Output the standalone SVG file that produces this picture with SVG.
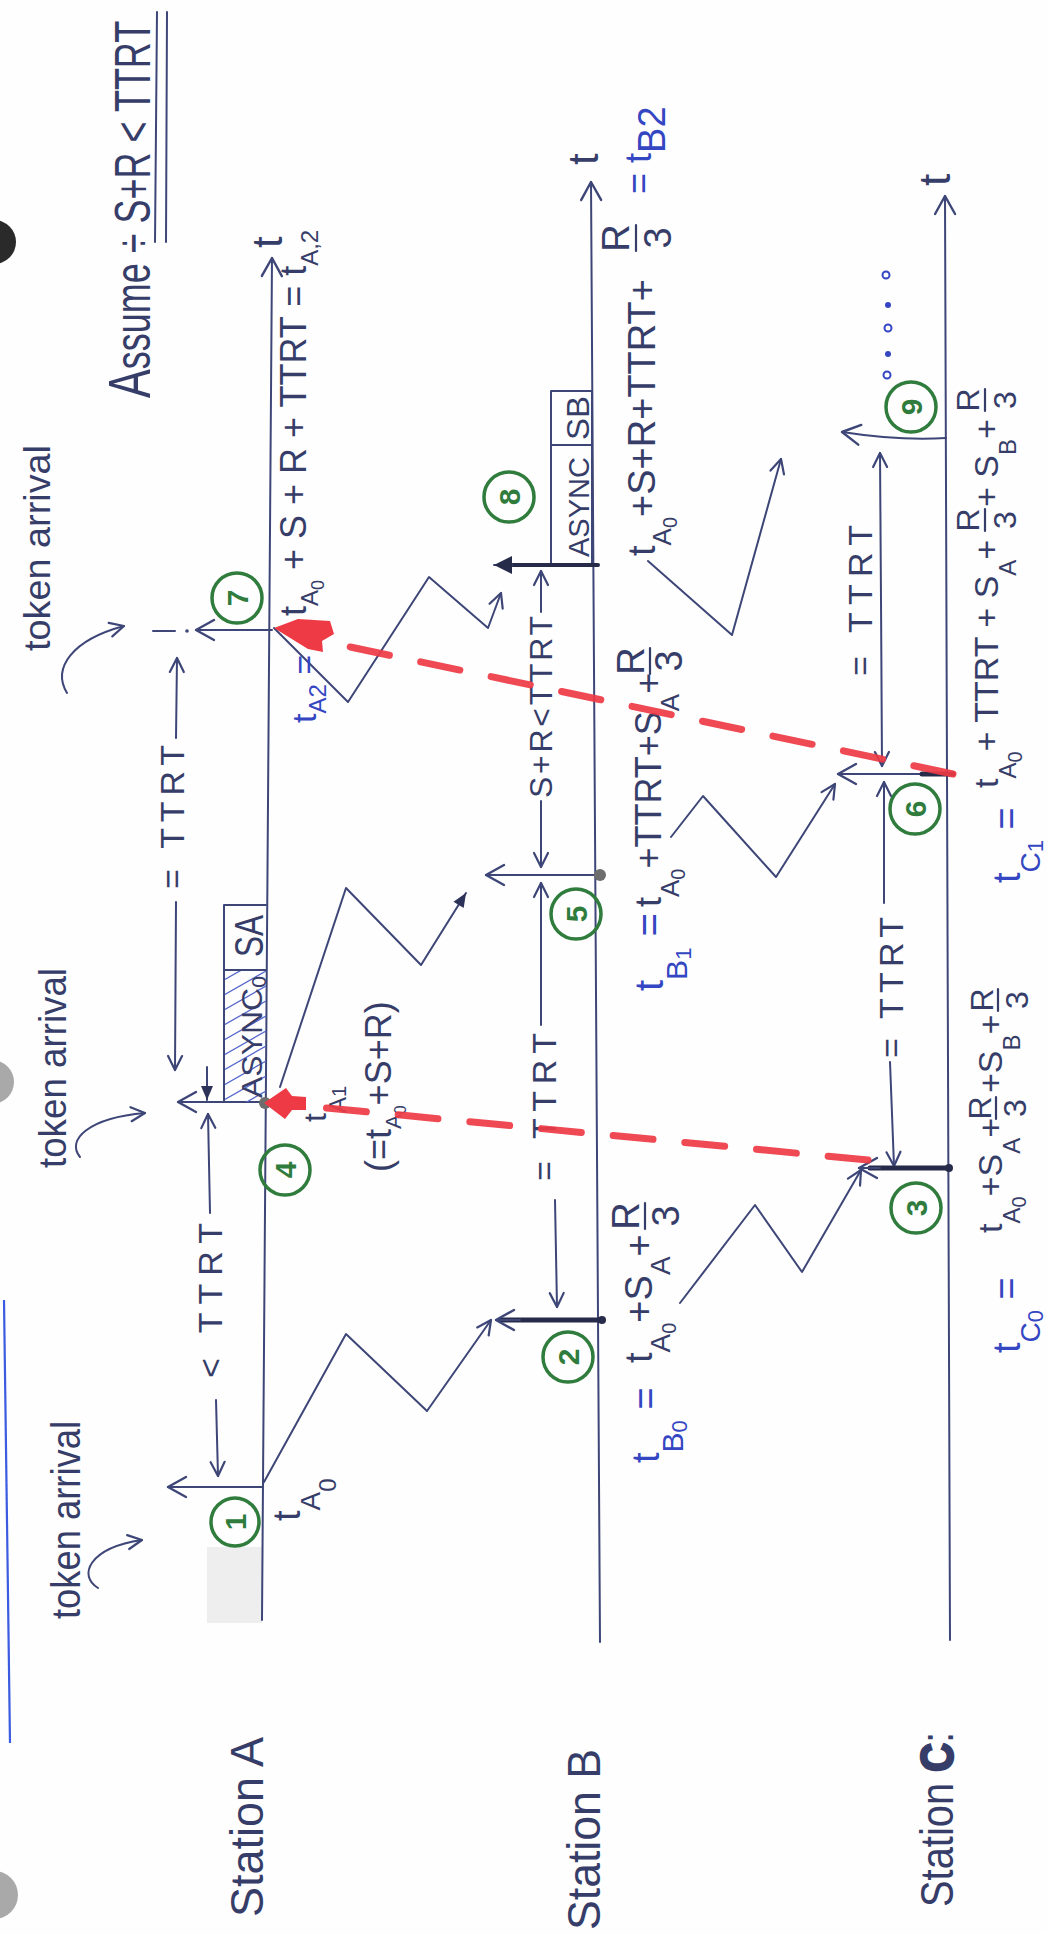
<svg xmlns="http://www.w3.org/2000/svg" width="1047" height="1934" viewBox="0 0 1047 1934">
<defs>
<style>
.ln{stroke:#3d4677;stroke-width:2;fill:none;stroke-linecap:round;stroke-linejoin:round}
.tk{stroke:#262b4a;stroke-width:5;fill:none;stroke-linecap:round}
.tx{font-family:"Liberation Sans","DejaVu Sans",Arial,sans-serif;fill:#363d68}
.bl{fill:#3446c2}
.gc{fill:none;stroke:#2f7c3d;stroke-width:3.5}
.gn{font-family:"Liberation Sans",Arial,sans-serif;font-weight:bold;fill:#2f7c3d;font-size:30px;text-anchor:middle}
.rd{fill:none;stroke:#ee3a44;stroke-width:7;stroke-linecap:round;stroke-dasharray:40 32;opacity:.92}
.rf{fill:#ee3a44}
.ht{stroke:#5566cc;stroke-width:1.3;fill:none}
.fb{stroke:#363d68;stroke-width:2.2;fill:none;stroke-linecap:round}
</style>
<marker id="ah" viewBox="0 0 24 24" refX="21" refY="12" markerWidth="24" markerHeight="24" markerUnits="userSpaceOnUse" orient="auto"><path d="M3,2 L21,12 L3,22" fill="none" stroke="#3d4677" stroke-width="2.4" stroke-linecap="round" stroke-linejoin="round"/></marker>
<marker id="as" viewBox="0 0 18 18" refX="16" refY="9" markerWidth="18" markerHeight="18" markerUnits="userSpaceOnUse" orient="auto"><path d="M2,2 L16,9 L2,16" fill="none" stroke="#3d4677" stroke-width="2.2" stroke-linecap="round" stroke-linejoin="round"/></marker>
<marker id="af" viewBox="0 0 20 20" refX="19" refY="10" markerWidth="20" markerHeight="20" markerUnits="userSpaceOnUse" orient="auto"><path d="M1,1 L19,10 L1,19 Z" fill="#262b4a"/></marker>
<marker id="afs" viewBox="0 0 16 16" refX="15" refY="8" markerWidth="16" markerHeight="16" markerUnits="userSpaceOnUse" orient="auto"><path d="M1,2 L15,8 L1,14 Z" fill="#2c3258"/></marker>
<clipPath id="hc"><rect x="224" y="970" width="42" height="132"/></clipPath>
</defs>
<rect width="1047" height="1934" fill="#fefefe"/>

<g id="paper">
<circle cx="-6" cy="242" r="22" fill="#2a2a2a"/>
<circle cx="-8" cy="1082" r="22" fill="#a9a9a9"/>
<circle cx="-6" cy="1895" r="24" fill="#a9a9a9"/>
<line x1="4" y1="1300" x2="10" y2="1743" stroke="#3b5be0" stroke-width="2.2"/>
<rect x="207" y="1547" width="55" height="76" fill="#d2d2d2" opacity="0.35"/>
</g>

<g id="assume">
<text class="tx" font-size="50" transform="translate(150,398) rotate(-90) scale(0.72,1)"><tspan font-size="60">A</tspan>ssume ÷ S+R &lt; TTRT</text>
<line class="ln" x1="155" y1="242" x2="157" y2="12"/>
<line class="ln" x1="166" y1="242" x2="167" y2="12"/>
</g>

<g id="timelines">
<path class="ln" d="M262,1620 L272,258" marker-end="url(#ah)"/>
<path class="ln" d="M600,1642 L591,182" marker-end="url(#ah)"/>
<path class="ln" d="M950,1640 L945,196" marker-end="url(#ah)"/>
<text class="tx" font-size="42" transform="translate(282,248) rotate(-90)">t</text>
<text class="tx" font-size="42" transform="translate(598,165) rotate(-90)">t</text>
<text class="tx" font-size="44" transform="translate(950,186) rotate(-90)">t</text>
</g>

<g id="station-a"><text class="tx" font-size="46" transform="translate(263,1917) rotate(-90)" textLength="180" lengthAdjust="spacingAndGlyphs">Station A</text></g>
<g id="station-b"><text class="tx" font-size="46" transform="translate(600,1930) rotate(-90)" textLength="181" lengthAdjust="spacingAndGlyphs">Station B</text></g>
<g id="station-c"><text class="tx" font-size="46" transform="translate(953,1907) rotate(-90)" textLength="175" lengthAdjust="spacingAndGlyphs">Station <tspan font-weight="bold" stroke="#363d68" stroke-width="2.5">C</tspan>:</text></g>

<g id="token-arrival-1">
<text class="tx" font-size="40" transform="translate(80,1619) rotate(-90)" textLength="198" lengthAdjust="spacingAndGlyphs">token arrival</text>
<path class="ln" d="M98,1588 C78,1576 88,1548 142,1540" marker-end="url(#as)"/>
</g>
<g id="token-arrival-2">
<text class="tx" font-size="38" transform="translate(66,1168) rotate(-90)" textLength="200" lengthAdjust="spacingAndGlyphs">token arrival</text>
<path class="ln" d="M80,1157 C66,1140 88,1118 145,1113" marker-end="url(#as)"/>
</g>
<g id="token-arrival-3">
<text class="tx" font-size="36" transform="translate(50,651) rotate(-90)" textLength="206" lengthAdjust="spacingAndGlyphs">token arrival</text>
<path class="ln" d="M67,693 C52,668 72,640 124,626" marker-end="url(#as)"/>
</g>

<g id="connectors">
<path class="ln" d="M264,1482 L346,1334 L427,1411 L491,1320" marker-end="url(#as)"/>
<path class="ln" d="M680,1303 L755,1205 L802,1272 L861,1170" marker-end="url(#as)"/>
<path class="ln" d="M280,1087 L346,888 L421,965 L466,893" marker-end="url(#afs)"/>
<path class="ln" d="M671,837 L703,796 L776,877 L835,784" marker-end="url(#as)"/>
<path class="ln" d="M274,628 L348,702 L429,577 L488,628 L501,593" marker-end="url(#as)"/>
<path class="ln" d="M648,561 L732,635 L781,459" marker-end="url(#as)"/>

<path class="ln" d="M210,1213 L208,1114" marker-end="url(#as)"/>
<path class="ln" d="M216,1400 L218,1476" marker-end="url(#as)"/>
<text class="tx" font-size="34" transform="translate(222,1378) rotate(-90)" textLength="155" lengthAdjust="spacing">&lt; TTRT</text>

<path class="ln" d="M176,738 L177,658" marker-end="url(#as)"/>
<path class="ln" d="M176,902 L175,1070" marker-end="url(#as)"/>
<path class="ln" d="M207,1067 L207,1100" marker-end="url(#afs)"/>
<text class="tx" font-size="34" transform="translate(184,889) rotate(-90)" textLength="144" lengthAdjust="spacing">= TTRT</text>

<path class="ln" d="M541,1025 L541,883" marker-end="url(#as)"/>
<path class="ln" d="M555,1200 L557,1307" marker-end="url(#as)"/>
<text class="tx" font-size="34" transform="translate(556,1181) rotate(-90)" textLength="148" lengthAdjust="spacing">= TTRT</text>

<path class="ln" d="M541,612 L541,571" marker-end="url(#as)"/>
<path class="ln" d="M541,801 L541,867" marker-end="url(#as)"/>
<text class="tx" font-size="32" transform="translate(552,798) rotate(-90)" textLength="182" lengthAdjust="spacing">S+R&lt;TTRT</text>

<path class="ln" d="M881,600 L880,453" marker-end="url(#as)"/>
<path class="ln" d="M881,600 L882,766" marker-end="url(#as)"/>
<text class="tx" font-size="34" transform="translate(872,676) rotate(-90)" textLength="151" lengthAdjust="spacing">= TTRT</text>

<path class="ln" d="M884,903 L884,782" marker-end="url(#as)"/>
<path class="ln" d="M890,1062 L894,1166" marker-end="url(#as)"/>
<text class="tx" font-size="34" transform="translate(903,1058) rotate(-90)" textLength="141" lengthAdjust="spacing">= TTRT</text>
</g>

<g id="ev1">
<path class="ln" d="M262,1487 L168,1487" marker-end="url(#ah)"/>
<circle class="gc" cx="235" cy="1522" r="24"/>
<text class="gn" transform="translate(235,1522) rotate(-90)" y="11">1</text>
<text class="tx" font-size="38" transform="translate(300,1521) rotate(-90)">t<tspan font-size="28" dy="20">A</tspan><tspan font-size="24" dy="16">0</tspan></text>
</g>

<g id="ev2">
<path class="tk" d="M602,1320 L500,1320"/>
<path class="ln" d="M520,1320 L496,1320" marker-end="url(#ah)"/>
<circle cx="602" cy="1320" r="4" fill="#262b4a"/>
<circle class="gc" cx="568" cy="1357" r="25"/>
<text class="gn" transform="translate(568,1357) rotate(-90)" y="11">2</text>
<text class="tx bl" font-size="38" transform="translate(659,1463) rotate(-90)">t<tspan font-size="30" dy="24">B</tspan><tspan font-size="22" dy="4">0</tspan><tspan dy="-28"> =</tspan></text>
<text class="tx" font-size="38" transform="translate(652,1363) rotate(-90)">t<tspan font-size="28" dy="18">A</tspan><tspan font-size="20" dy="6">0</tspan><tspan dy="-24">+S</tspan><tspan font-size="28" dy="18">A</tspan><tspan dy="-18">+</tspan></text>
<g class="tx" font-size="38" transform="translate(645,1216) rotate(-90)"><text x="0" y="-6" text-anchor="middle">R</text><path class="fb" d="M-13,0 H13"/><text x="0" y="34" text-anchor="middle">3</text></g>
</g>

<g id="ev3">
<path class="tk" d="M949,1168 L870,1168"/>
<path class="ln" d="M880,1168 L859,1168" marker-end="url(#ah)"/>
<circle cx="949" cy="1168" r="4" fill="#262b4a"/>
<circle class="gc" cx="916" cy="1208" r="25"/>
<text class="gn" transform="translate(916,1208) rotate(-90)" y="11">3</text>
<text class="tx bl" font-size="38" transform="translate(1020,1353) rotate(-90)">t<tspan font-size="28" dy="20">C</tspan><tspan font-size="22" dy="3">0</tspan><tspan dy="-23"> =</tspan></text>
<text class="tx" font-size="34" transform="translate(1002,1233) rotate(-90)">t<tspan font-size="24" dy="18">A</tspan><tspan font-size="20" dy="6">0</tspan><tspan dy="-24">+S</tspan><tspan font-size="24" dy="18">A</tspan><tspan dy="-18">+</tspan></text>
<g class="tx" font-size="32" transform="translate(996,1108) rotate(-90)"><text x="0" y="-5" text-anchor="middle">R</text><path class="fb" d="M-11,0 H11"/><text x="0" y="30" text-anchor="middle">3</text></g>
<text class="tx" font-size="34" transform="translate(1002,1093) rotate(-90)">+S<tspan font-size="24" dy="18">B</tspan><tspan dy="-18">+</tspan></text>
<g class="tx" font-size="32" transform="translate(998,1000) rotate(-90)"><text x="0" y="-5" text-anchor="middle">R</text><path class="fb" d="M-11,0 H11"/><text x="0" y="30" text-anchor="middle">3</text></g>
</g>

<g id="ev4">
<path class="ln" d="M265,1102 L178,1102" marker-end="url(#ah)"/>
<circle cx="265" cy="1103" r="6" fill="#6d6d6d"/>
<circle class="gc" cx="285" cy="1170" r="25"/>
<text class="gn" transform="translate(285,1170) rotate(-90)" y="11">4</text>
<text class="tx" font-size="32" transform="translate(326,1122) rotate(-90)">t<tspan font-size="24" dy="20">A</tspan><tspan font-size="20">1</tspan></text>
<text class="tx" font-size="36" transform="translate(391,1172) rotate(-90)">(=t<tspan font-size="22" dy="10">A</tspan><tspan font-size="16" dy="5">0</tspan><tspan dy="-15">+S+R)</tspan></text>
</g>

<g id="ev5">
<path class="ln" d="M601,875 L486,875" marker-end="url(#ah)"/>
<circle cx="600" cy="875" r="6" fill="#6d6d6d"/>
<circle class="gc" cx="576" cy="914" r="25"/>
<text class="gn" transform="translate(576,914) rotate(-90)" y="11">5</text>
<text class="tx bl" font-size="40" transform="translate(663,991) rotate(-90)">t<tspan font-size="30" dy="24">B</tspan><tspan font-size="22" dy="4">1</tspan><tspan dy="-28"> =</tspan></text>
<text class="tx" font-size="36" transform="translate(661,907) rotate(-90)">t<tspan font-size="26" dy="18">A</tspan><tspan font-size="20" dy="6">0</tspan><tspan dy="-24">+TTRT+S</tspan><tspan font-size="26" dy="18">A</tspan><tspan dy="-18">+</tspan></text>
<g class="tx" font-size="38" transform="translate(650,661) rotate(-90)"><text x="0" y="-6" text-anchor="middle">R</text><path class="fb" d="M-13,0 H13"/><text x="0" y="32" text-anchor="middle">3</text></g>
</g>

<g id="ev6">
<path class="ln" d="M953,774 L838,774" marker-end="url(#ah)"/>
<path class="tk" d="M953,774 L922,774"/>
<circle class="gc" cx="915" cy="809" r="25"/>
<text class="gn" transform="translate(915,809) rotate(-90)" y="11">6</text>
<text class="tx bl" font-size="38" transform="translate(1020,883) rotate(-90)">t<tspan font-size="28" dy="20">C</tspan><tspan font-size="22" dy="3">1</tspan><tspan dy="-23"> =</tspan></text>
<text class="tx" font-size="34" transform="translate(998,788) rotate(-90)">t<tspan font-size="24" dy="18">A</tspan><tspan font-size="20" dy="6">0</tspan><tspan dy="-24">+ TTRT + S</tspan><tspan font-size="24" dy="18">A</tspan><tspan dy="-18">+</tspan></text>
<g class="tx" font-size="32" transform="translate(985,520) rotate(-90)"><text x="0" y="-6" text-anchor="middle">R</text><path class="fb" d="M-11,0 H11"/><text x="0" y="31" text-anchor="middle">3</text></g>
<text class="tx" font-size="34" transform="translate(998,507) rotate(-90)">+ S<tspan font-size="24" dy="18">B</tspan><tspan dy="-18">+</tspan></text>
<g class="tx" font-size="32" transform="translate(985,400) rotate(-90)"><text x="0" y="-6" text-anchor="middle">R</text><path class="fb" d="M-11,0 H11"/><text x="0" y="31" text-anchor="middle">3</text></g>
</g>

<g id="ev7">
<path class="ln" d="M272,630 L196,630" marker-end="url(#ah)"/>
<circle cx="187" cy="631" r="1.8" fill="#3d4677"/>
<path class="ln" d="M153,631 L175,631"/>
<circle class="gc" cx="237" cy="598" r="25"/>
<text class="gn" transform="translate(237,598) rotate(-90)" y="11">7</text>
<text class="tx" font-size="36" transform="translate(306,616) rotate(-90)">t<tspan font-size="24" dy="12">A</tspan><tspan font-size="18" dy="6">0</tspan><tspan dy="-18"> + S + R + TTRT = t</tspan><tspan font-size="24" dy="12">A,2</tspan></text>
<text class="tx bl" font-size="34" transform="translate(316,723) rotate(-90)">t<tspan font-size="24" dy="10">A2</tspan><tspan dy="-10"> =</tspan></text>
</g>

<g id="ev8">
<rect class="ln" x="551" y="391" width="41" height="174"/>
<line class="ln" x1="551" y1="445" x2="592" y2="445"/>
<text class="tx" font-size="32" transform="translate(589,440) rotate(-90)" textLength="44" lengthAdjust="spacingAndGlyphs">SB</text>
<text class="tx" font-size="30" transform="translate(589,557) rotate(-90)" textLength="100" lengthAdjust="spacingAndGlyphs">ASYNC</text>
<path class="tk" d="M598,565 L500,565" style="stroke-width:4"/>
<path class="ln" d="M512,565 L494,565" marker-end="url(#af)"/>
<circle class="gc" cx="509" cy="497" r="25"/>
<text class="gn" transform="translate(509,497) rotate(-90)" y="11">8</text>
<text class="tx" font-size="38" transform="translate(655,556) rotate(-90)">t<tspan font-size="26" dy="16">A</tspan><tspan font-size="20" dy="6">0</tspan><tspan dy="-22">+S+R+TTRT+</tspan></text>
<g class="tx" font-size="38" transform="translate(636,238) rotate(-90)"><text x="0" y="-7" text-anchor="middle">R</text><path class="fb" d="M-13,0 H13"/><text x="0" y="35" text-anchor="middle">3</text></g>
<text class="tx bl" font-size="36" transform="translate(651,194) rotate(-90)">=  t<tspan font-size="38" dy="14">B2</tspan></text>
</g>

<g id="ev9">
<path class="ln" d="M946,438 Q900,441 842,432" marker-end="url(#ah)"/>
<circle class="gc" cx="911" cy="407" r="25"/>
<text class="gn" transform="translate(911,407) rotate(-90)" y="11">9</text>
<g fill="#3446c2" stroke="#3446c2">
<circle cx="887" cy="375" r="3.5" fill="none" stroke-width="2"/>
<circle cx="888" cy="354" r="3" stroke="none"/>
<circle cx="888" cy="328" r="3.5" fill="none" stroke-width="2"/>
<circle cx="888" cy="305" r="3" stroke="none"/>
<circle cx="886" cy="275" r="3.5" fill="none" stroke-width="2"/>
</g>
</g>

<g id="async-a">
<g clip-path="url(#hc)">
<path class="ht" d="M224,980 L266,956 M224,995 L266,971 M224,1010 L266,986 M224,1025 L266,1001 M224,1040 L266,1016 M224,1055 L266,1031 M224,1070 L266,1046 M224,1085 L266,1061 M224,1100 L266,1076 M224,1115 L266,1091 M224,1130 L266,1106"/>
</g>
<path class="ln" d="M266,905 L224,905 L224,1102"/>
<line class="ln" x1="224" y1="970" x2="266" y2="970"/>
<text class="tx" font-size="40" transform="translate(263,957) rotate(-90)" textLength="42" lengthAdjust="spacingAndGlyphs">SA</text>
<text class="tx" font-size="30" transform="translate(262,1098) rotate(-90)" textLength="122" lengthAdjust="spacingAndGlyphs">ASYNC<tspan font-size="20" dy="4">0</tspan></text>
</g>

<g id="red-links">
<path class="rd" d="M868,1160 L306,1106"/>
<polygon class="rf" points="264,1103 286,1088 292,1096 306,1097 306,1110 292,1110 285,1119"/>
<path class="rd" d="M953,774 L322,641"/>
<polygon class="rf" points="274,628 298,619 330,621 334,634 322,641 323,652 308,649"/>
</g>
</svg>
